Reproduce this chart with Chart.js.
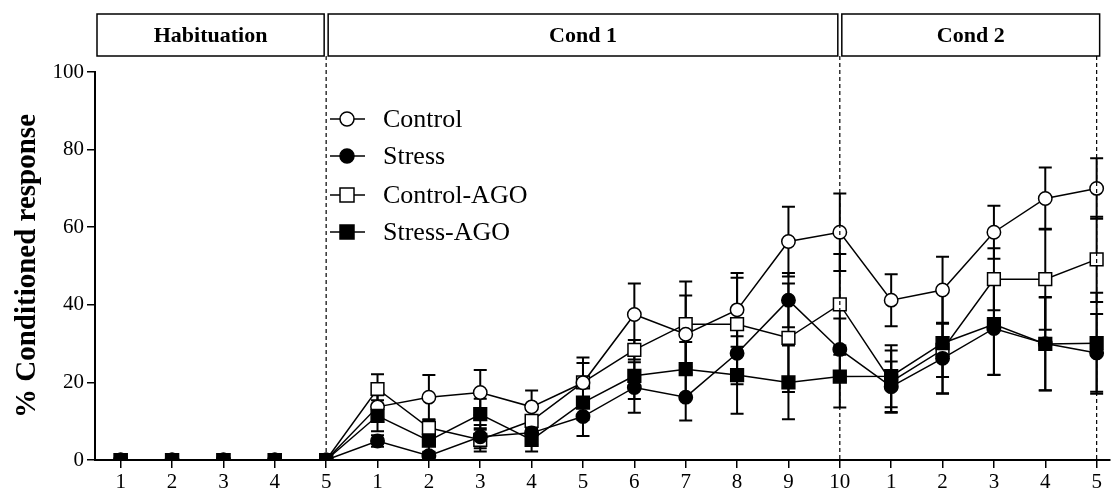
<!DOCTYPE html>
<html>
<head>
<meta charset="utf-8">
<script src="https://cdn.jsdelivr.net/npm/chart.js@4/dist/chart.umd.min.js"></script>
<style>
  html, body { margin: 0; padding: 0; background: #fff; }
  #wrap { width: 1112px; height: 496px; }
</style>
</head>
<body>
<div id="wrap"><canvas id="lineChart"></canvas></div>
<script>
// trials: habituation 1-5, cond 1 trials 1-10, cond 2 trials 1-5
const xLabels = ['1','2','3','4','5','1','2','3','4','5','6','7','8','9','10','1','2','3','4','5'];
const phaseNames = ['Habituation', 'Cond 1', 'Cond 2'];
const phaseEnds = [5, 15, 20];

const seriesNames = ['Control', 'Stress', 'Control-AGO', 'Stress-AGO'];

const control    = [0,0,0,0,0, 13.7,16.2,17.4,13.7,19.9,37.5,32.4,38.7,56.3,58.7, 41.2,43.8,58.7,67.4,70.0];
const controlErr = [0,0,0,0,0, 3,5.7,5.8,4.2,6.5,8,10,9.5,9,10, 6.7,8.6,6.8,8,7.8];

const stress     = [0,0,0,0,0, 4.9,1.1,6.0,7.0,11.2,18.7,16.2,27.5,41.2,28.5, 18.9,26.2,33.9,30.0,27.6];
const stressErr  = [0,0,0,0,0, 1.5,1,3,3,5,6.5,6,8,7,8, 6.5,9,12,12,10];

const controlAgo    = [0,0,0,0,0, 18.3,8.3,5.2,10.1,20.0,28.4,35.0,35.0,31.5,40.1, 20.2,28.4,46.6,46.6,51.7];
const controlAgoErr = [0,0,0,0,0, 3.8,2,3,3,5,2.5,11,12,14,13, 8,7,8,13,11];

const stressAgo    = [0,0,0,0,0, 11.4,5.0,11.8,5.2,14.8,21.7,23.4,21.9,20.0,21.5, 21.6,30.1,35.0,29.9,30.1];
const stressAgoErr = [0,0,0,0,0, 4,3,4,3,4.5,6,7,10,9.5,8, 8,13,13,12,13];

const yTicks = [0, 20, 40, 60, 80, 100];

const serif = "'Liberation Serif', 'Times New Roman', serif";

function toPoints(vals) {
  return vals.map((v, i) => ({ x: i + 1, y: v }));
}

function makeSet(label, vals, errs, style, filled, order) {
  return {
    label: label,
    data: toPoints(vals),
    errors: errs,
    order: order,
    borderColor: '#000',
    borderWidth: 1.5,
    pointStyle: style,
    pointRadius: style === 'circle' ? 6.7 : 9,
    pointBorderWidth: 1.5,
    pointBorderColor: '#000',
    pointBackgroundColor: filled ? '#000' : '#fff',
    tension: 0,
    fill: false
  };
}

// lower order ends up on top
const datasets = [
  makeSet(seriesNames[0], control, controlErr, 'circle', false, 1),
  makeSet(seriesNames[1], stress, stressErr, 'circle', true, 2),
  makeSet(seriesNames[2], controlAgo, controlAgoErr, 'rect', false, 3),
  makeSet(seriesNames[3], stressAgo, stressAgoErr, 'rect', true, 0)
];

// SEM whiskers with caps
const errorBars = {
  id: 'errorBars',
  beforeDatasetsDraw(chart) {
    const { ctx, scales: { x, y } } = chart;
    ctx.save();
    ctx.strokeStyle = '#000';
    ctx.lineWidth = 2;
    chart.data.datasets.forEach(ds => {
      ds.data.forEach((p, i) => {
        const e = ds.errors[i];
        if (!e) return;
        const px = x.getPixelForValue(p.x);
        const top = y.getPixelForValue(p.y + e);
        const bot = y.getPixelForValue(Math.max(0, p.y - e));
        ctx.beginPath();
        ctx.moveTo(px, top); ctx.lineTo(px, bot);
        ctx.moveTo(px - 6.5, top); ctx.lineTo(px + 6.5, top);
        ctx.moveTo(px - 6.5, bot); ctx.lineTo(px + 6.5, bot);
        ctx.stroke();
      });
    });
    ctx.restore();
  }
};

// phase header boxes, dashed separators and the legend
const phases = {
  id: 'phases',
  afterDraw(chart) {
    const { ctx, chartArea, scales: { x, y } } = chart;
    const boxTop = 14, boxBot = 56;
    ctx.save();
    const bounds = [chartArea.left + 2];
    phaseEnds.forEach(v => bounds.push(x.getPixelForValue(v)));
    ctx.lineWidth = 1.5;
    ctx.strokeStyle = '#000';
    ctx.fillStyle = '#000';
    ctx.font = 'bold 22px ' + serif;
    ctx.textAlign = 'center';
    ctx.textBaseline = 'middle';
    phaseNames.forEach((name, i) => {
      const last = i === phaseNames.length - 1;
      const l = bounds[i] + (i === 0 ? 0 : 2);
      const r = bounds[i + 1] + (last ? 3 : -2);
      ctx.strokeRect(l, boxTop, r - l, boxBot - boxTop);
      ctx.fillText(name, (l + r) / 2, (boxTop + boxBot) / 2 + 1);
    });

    ctx.setLineDash([4, 3]);
    ctx.lineWidth = 1.2;
    phaseEnds.forEach(v => {
      const px = x.getPixelForValue(v);
      ctx.beginPath();
      ctx.moveTo(px, boxBot);
      ctx.lineTo(px, y.getPixelForValue(0));
      ctx.stroke();
    });
    ctx.setLineDash([]);

    // legend
    const lx = 347, rows = [119, 156, 195, 232];
    ctx.textAlign = 'left';
    ctx.font = '26px ' + serif;
    chart.data.datasets.forEach((ds, i) => {
      const ly = rows[i];
      ctx.lineWidth = 1.5;
      ctx.beginPath();
      ctx.moveTo(lx - 17, ly); ctx.lineTo(lx + 18, ly);
      ctx.stroke();
      ctx.fillStyle = ds.pointBackgroundColor;
      ctx.beginPath();
      if (ds.pointStyle === 'circle') {
        ctx.arc(lx, ly, 7, 0, Math.PI * 2);
      } else {
        ctx.rect(lx - 7, ly - 7, 14, 14);
      }
      ctx.fill();
      ctx.stroke();
      ctx.fillStyle = '#000';
      ctx.fillText(ds.label, 383, ly + 1);
    });
    ctx.restore();
  }
};

new Chart(document.getElementById('lineChart'), {
  type: 'line',
  data: { datasets: datasets },
  options: {
    responsive: true,
    maintainAspectRatio: false,
    animation: false,
    layout: { autoPadding: false, padding: { top: 72, right: 2, left: 0, bottom: 0 } },
    plugins: {
      legend: { display: false },
      tooltip: { enabled: false }
    },
    scales: {
      x: {
        type: 'linear',
        min: 0.5,
        max: 20.26,
        afterFit: s => { s.height = 36; s.paddingRight = 0; s.paddingLeft = 0; },
        afterBuildTicks: s => { s.ticks = xLabels.map((_, i) => ({ value: i + 1 })); },
        grid: { drawOnChartArea: false, drawTicks: true, tickLength: 8, color: '#000', lineWidth: 1.5 },
        border: { display: true, color: '#000', width: 2 },
        ticks: {
          color: '#000',
          font: { family: serif, size: 21 },
          padding: 2,
          maxRotation: 0,
          autoSkip: false,
          callback: v => xLabels[v - 1]
        }
      },
      y: {
        min: 0,
        max: 100,
        afterFit: s => { s.width = 95; },
        afterBuildTicks: s => { s.ticks = yTicks.map(v => ({ value: v })); },
        grid: { drawOnChartArea: false, drawTicks: true, tickLength: 8, color: '#000', lineWidth: 1.5 },
        border: { display: true, color: '#000', width: 2 },
        ticks: {
          color: '#000',
          font: { family: serif, size: 21 },
          padding: 3
        },
        title: {
          display: true,
          text: '% Conditioned response',
          color: '#000',
          font: { family: serif, size: 29, weight: 'bold' },
          padding: { top: 10, bottom: 0 }
        }
      }
    }
  },
  plugins: [errorBars, phases]
});
</script>
</body>
</html>
